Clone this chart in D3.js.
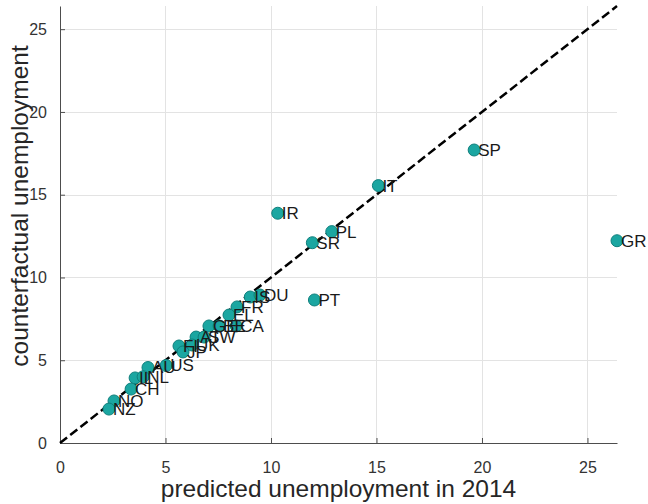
<!DOCTYPE html>
<html>
<head>
<meta charset="utf-8">
<script src="https://cdn.jsdelivr.net/npm/d3@7"></script>
<style>
  html, body { margin: 0; padding: 0; background: #fff; }
  svg { display: block; font-family: "Liberation Sans", Arial, Helvetica, sans-serif; }
</style>
</head>
<body>
<svg id="chart" width="648" height="504"></svg>
<script>
// Country codes, predicted 2014 unemployment (x) and counterfactual unemployment (y)
const countries = ["SP", "IT", "IR", "PL", "SR", "GR", "PT",
  "IS", "DU", "FR", "EL", "GE", "BE", "CA", "AT", "SW",
  "FI", "UK", "JP", "AU", "US", "IL", "NL", "CH", "NO", "NZ"];
const predicted = [19.63, 15.09, 10.32, 12.88, 11.96, 26.40, 12.06,
  9.02, 9.48, 8.39, 8.01, 7.06, 7.54, 8.35, 6.45, 6.83,
  5.64, 6.26, 5.83, 4.17, 5.03, 3.56, 3.94, 3.37, 2.56, 2.32];
const counterfactual = [17.70, 15.55, 13.88, 12.77, 12.10, 12.22, 8.64,
  8.82, 8.94, 8.22, 7.73, 7.07, 7.07, 7.07, 6.40, 6.40,
  5.86, 5.92, 5.50, 4.56, 4.68, 3.93, 4.00, 3.26, 2.54, 2.05];
const xTicks = [0, 5, 10, 15, 20, 25];
const yTicks = [0, 5, 10, 15, 20, 25];
const axisMax = 26.4;

const data = countries.map((c, i) => ({ code: c, x: predicted[i], y: counterfactual[i] }));

const svg = d3.select("#chart");
const margin = { left: 60, right: 31, top: 6, bottom: 61 };
const W = 648, H = 504;

const x = d3.scaleLinear().domain([0, axisMax]).range([margin.left, W - margin.right]);
const y = d3.scaleLinear().domain([0, axisMax]).range([H - margin.bottom, margin.top]);

// grid
const grid = svg.append("g").attr("stroke", "#e3e3e3").attr("stroke-width", 1);
grid.selectAll("line.v").data(xTicks.filter(t => t > 0)).join("line")
  .attr("x1", d => Math.round(x(d)) + 0.5).attr("x2", d => Math.round(x(d)) + 0.5)
  .attr("y1", y(axisMax)).attr("y2", y(0));
grid.selectAll("line.h").data(yTicks.filter(t => t > 0)).join("line")
  .attr("y1", d => Math.round(y(d)) + 0.5).attr("y2", d => Math.round(y(d)) + 0.5)
  .attr("x1", x(0)).attr("x2", x(axisMax));

// axes with inward ticks
const xAxis = d3.axisBottom(x).tickValues(xTicks).tickSizeInner(-5).tickSizeOuter(0).tickPadding(19);
const yAxis = d3.axisLeft(y).tickValues(yTicks).tickSizeInner(-5).tickSizeOuter(0).tickPadding(13);

const gx = svg.append("g").attr("transform", `translate(0,${y(0)})`).call(xAxis);
const gy = svg.append("g").attr("transform", `translate(${x(0)},0)`).call(yAxis);
[gx, gy].forEach(g => {
  g.select(".domain").attr("stroke", "#4d4d4d");
  g.selectAll(".tick line").attr("stroke", "#4d4d4d");
  g.selectAll(".tick text").attr("fill", "#333").attr("font-size", 16)
    .attr("font-family", "Liberation Sans, Arial, sans-serif");
});

// 45-degree reference line
svg.append("line")
  .attr("x1", x(0)).attr("y1", y(0))
  .attr("x2", x(axisMax)).attr("y2", y(axisMax))
  .attr("stroke", "#000").attr("stroke-width", 2.5)
  .attr("stroke-dasharray", "9,4");

// points
svg.append("g").selectAll("circle").data(data).join("circle")
  .attr("cx", d => x(d.x)).attr("cy", d => y(d.y)).attr("r", 6)
  .attr("fill", "#1ba6a1").attr("stroke", "#0f7f7c").attr("stroke-width", 1);

// country labels
svg.append("g").selectAll("text").data(data).join("text")
  .attr("x", d => x(d.x) + 4).attr("y", d => y(d.y))
  .attr("dy", "0.35em")
  .attr("font-size", 17).attr("fill", "#1a1a1a")
  .text(d => d.code);

// axis titles
svg.append("text")
  .attr("x", (x(0) + x(axisMax)) / 2).attr("y", 497)
  .attr("text-anchor", "middle").attr("font-size", 24.5).attr("fill", "#262626")
  .text("predicted unemployment in 2014");

svg.append("text")
  .attr("transform", "translate(28,206)rotate(-90)")
  .attr("text-anchor", "middle").attr("font-size", 24.5).attr("fill", "#262626")
  .text("counterfactual unemployment");
</script>
</body>
</html>
